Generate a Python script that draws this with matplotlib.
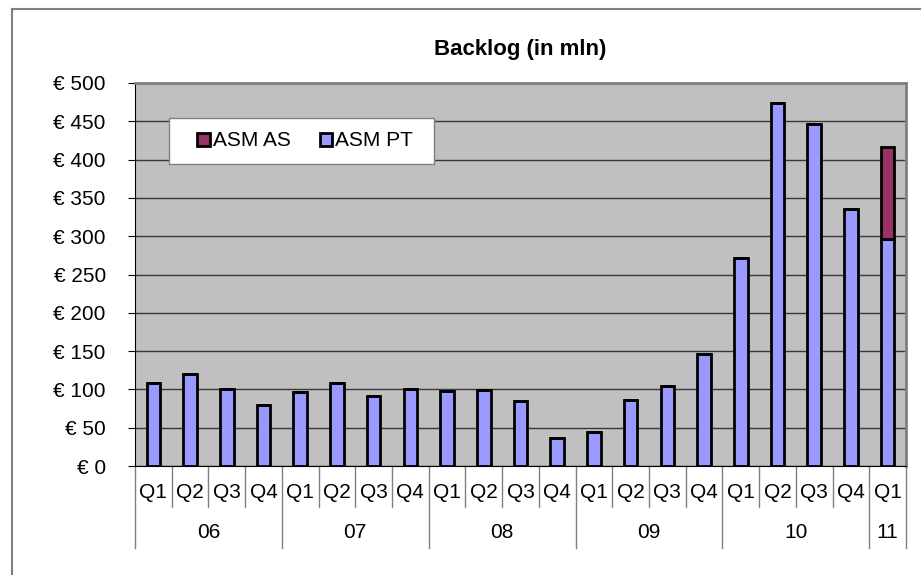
import numpy as np
import matplotlib.pyplot as plt
from matplotlib.lines import Line2D
from matplotlib.patches import Rectangle

plt.rcParams['font.family'] = ['Liberation Sans', 'DejaVu Sans']

quarters = ['Q1', 'Q2', 'Q3', 'Q4'] * 5 + ['Q1']
years = ['06', '07', '08', '09', '10', '11']
year_counts = [4, 4, 4, 4, 4, 1]
asm_pt = [108, 120, 100, 79, 97, 108, 92, 100, 98, 99, 85, 37, 45, 86, 104, 146,
          271, 474, 447, 336, 296]
asm_as = [0] * 20 + [121]

W, H = 921, 575
L, R, T, B = 135, 906, 83, 466
fig = plt.figure(figsize=(W / 100, H / 100), dpi=100)
ax = fig.add_axes([L / W, 1 - B / H, (R - L) / W, (B - T) / H])
pw, ph = R - L, B - T

x = np.arange(len(asm_pt))
ax.bar(x, asm_pt, width=0.37, color='#9999FF', edgecolor='black', linewidth=2,
       zorder=3, label='ASM PT')
ax.bar(x, asm_as, width=0.37, bottom=asm_pt, color='#993366', edgecolor='black',
       linewidth=2, zorder=3, label='ASM AS')

ax.set_facecolor('#C0C0C0')
ax.set_xlim(-0.5, len(x) - 0.5)
ax.set_ylim(0, 500)
ax.set_yticks(range(0, 501, 50))
ax.set_yticklabels(['€ %d' % v for v in range(0, 501, 50)], fontsize=15)
ax.tick_params(axis='y', length=5, color='black', pad=16)
ax.grid(axis='y', color='#383838', linewidth=1, zorder=1)
ax.set_xticks([])
for s in ['top', 'right']:
    ax.spines[s].set_color('#808080')
    ax.spines[s].set_linewidth(2)
ax.spines['left'].set_color('black')
ax.spines['bottom'].set_color('black')

# two-level category axis
trans = ax.get_xaxis_transform()
q_depth = -(507 - B) / ph
y_depth = -(548 - B) / ph
for i, q in enumerate(quarters):
    ax.text(i, -(492 - B) / ph, q, transform=trans, ha='center', va='center',
            fontsize=15)
bounds = np.concatenate([[0], np.cumsum(year_counts)])
for i in range(len(quarters) + 1):
    depth = y_depth if i in bounds else q_depth
    ax.add_line(Line2D([i - 0.5, i - 0.5], [0, depth], transform=trans,
                       color='#808080', linewidth=1, clip_on=False))
for yr, a, b in zip(years, bounds[:-1], bounds[1:]):
    ax.text((a + b - 1) / 2, -(533 - B) / ph, yr, transform=trans, ha='center',
            va='center', fontsize=15)

fig.text((L + R) / 2 / W, 1 - 50 / H, 'Backlog (in mln)', ha='center',
         va='center', fontsize=16, fontweight='bold')

# legend box
ax.add_patch(Rectangle(((169 - L) / pw, 1 - (164 - T) / ph), (434 - 169) / pw,
                       (164 - 118) / ph, transform=ax.transAxes, facecolor='white',
                       edgecolor='#808080', linewidth=1, zorder=4))
handles, labels = ax.get_legend_handles_labels()
leg = ax.legend(handles[::-1], labels[::-1], loc='center left', ncol=2,
                bbox_to_anchor=((197 - L) / pw, 1 - (141 - T) / ph),
                fontsize=15, frameon=False, handlelength=0.6,
                handleheight=0.6, handletextpad=0.15, columnspacing=1.4,
                borderpad=0, borderaxespad=0)
leg.set_zorder(5)

# outer chart border
fig.add_artist(Line2D([12 / W, 1], [1 - 9 / H, 1 - 9 / H], color='#808080', linewidth=1.5))
fig.add_artist(Line2D([12 / W, 12 / W], [0, 1 - 9 / H], color='#808080', linewidth=1.5))

fig.savefig('out.png', dpi=100)
